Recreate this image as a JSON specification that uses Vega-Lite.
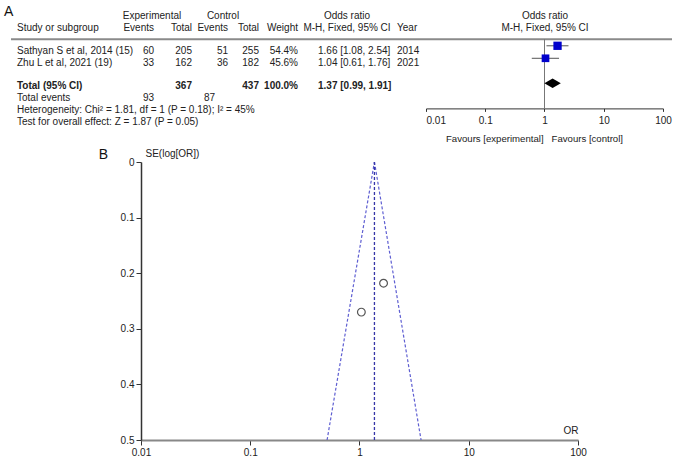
{
  "$schema": "https://vega.github.io/schema/vega-lite/v6.json",
  "padding": {"left": 4, "top": 5, "right": 0, "bottom": 0},
  "background": "white",
  "config": {
    "view": {"stroke": null},
    "font": "Liberation Sans",
    "text": {"fontSize": 10, "color": "#222"},
    "axis": {"grid": false, "labelColor": "#222", "titleColor": "#222", "titleFontWeight": "normal", "labelFontSize": 10, "titleFontSize": 10, "labelFlush": false, "labelOverlap": false}
  },
  "datasets": {
    "table": [
      {"row": "h2", "study": "Study or subgroup", "ee": "Events", "et": "Total", "ce": "Events", "ct": "Total", "w": "Weight", "yr": "Year"},
      {"row": "s1", "study": "Sathyan S et al, 2014 (15)", "ee": "60", "et": "205", "ce": "51", "ct": "255", "w": "54.4%", "or": "1.66 [1.08, 2.54]", "yr": "2014"},
      {"row": "s2", "study": "Zhu L et al, 2021 (19)", "ee": "33", "et": "162", "ce": "36", "ct": "182", "w": "45.6%", "or": "1.04 [0.61, 1.76]", "yr": "2021"},
      {"row": "tot", "study": "Total (95% CI)", "et": "367", "ct": "437", "w": "100.0%", "or": "1.37 [0.99, 1.91]"},
      {"row": "ev", "study": "Total events", "ee": "93", "ce_total": "87"},
      {"row": "het", "study": "Heterogeneity: Chi² = 1.81, df = 1 (P = 0.18); I² = 45%"},
      {"row": "test", "study": "Test for overall effect: Z = 1.87 (P = 0.05)"}
    ],
    "header": [
      {"row": "h1", "group": "exp", "label": "Experimental"},
      {"row": "h1", "group": "ctl", "label": "Control"},
      {"row": "h1", "group": "or", "label": "Odds ratio"},
      {"row": "h2", "group": "or", "label": "M-H, Fixed, 95% CI"},
      {"row": "h1", "group": "plot", "label": "Odds ratio"},
      {"row": "h2", "group": "plot", "label": "M-H, Fixed, 95% CI"}
    ],
    "forest": [
      {"row": "s1", "study": "Sathyan S et al, 2014", "or": 1.66, "lo": 1.08, "hi": 2.54, "weight": 54.4},
      {"row": "s2", "study": "Zhu L et al, 2021", "or": 1.04, "lo": 0.61, "hi": 1.76, "weight": 45.6}
    ],
    "pooled": [
      {"row": "tot", "or": 1.37, "lo": 0.99, "hi": 1.91}
    ],
    "funnel_points": [
      {"study": "Sathyan S et al, 2014", "or": 1.66, "se": 0.218},
      {"study": "Zhu L et al, 2021", "or": 1.04, "se": 0.27}
    ],
    "funnel_lines": [
      {"line": "lower", "or": 1.37, "se": 0},
      {"line": "lower", "or": 0.505, "se": 0.5},
      {"line": "upper", "or": 1.37, "se": 0},
      {"line": "upper", "or": 3.66, "se": 0.5},
      {"line": "center", "or": 1.37, "se": 0},
      {"line": "center", "or": 1.37, "se": 0.5}
    ]
  },
  "spacing": 5,
  "vconcat": [
    {
      "bounds": "flush",
      "spacing": 0,
      "hconcat": [
        {
          "width": 285,
          "height": 117.4,
          "data": {"name": "table"},
          "layer": [
            {
              "data": {"values": [{"panel": "A"}]},
              "mark": {"type": "text", "align": "left", "fontSize": 14, "dy": -3.7, "color": "#111"},
              "encoding": {
                "x": {"datum": 4, "type": "quantitative", "scale": {"domain": [141, 426], "nice": false, "zero": false}, "axis": null},
                "y": {"datum": "h1", "type": "nominal", "scale": {"domain": ["h1", "h2", "line", "s1", "s2", "gap", "tot", "ev", "het", "test"]}, "axis": null},
                "text": {"field": "panel"}
              }
            },
            {
              "data": {"name": "header"},
              "transform": [{"filter": "datum.group === 'exp'"}],
              "mark": {"type": "text", "align": "center"},
              "encoding": {
                "x": {"datum": 152, "type": "quantitative", "scale": {"domain": [141, 426], "nice": false, "zero": false}, "axis": null},
                "y": {"field": "row", "type": "nominal", "scale": {"domain": ["h1", "h2", "line", "s1", "s2", "gap", "tot", "ev", "het", "test"]}, "axis": null},
                "text": {"field": "label"}
              }
            },
            {
              "data": {"name": "header"},
              "transform": [{"filter": "datum.group === 'ctl'"}],
              "mark": {"type": "text", "align": "center"},
              "encoding": {
                "x": {"datum": 223, "type": "quantitative", "scale": {"domain": [141, 426], "nice": false, "zero": false}, "axis": null},
                "y": {"field": "row", "type": "nominal", "scale": {"domain": ["h1", "h2", "line", "s1", "s2", "gap", "tot", "ev", "het", "test"]}, "axis": null},
                "text": {"field": "label"}
              }
            },
            {
              "data": {"name": "header"},
              "transform": [{"filter": "datum.group === 'or'"}],
              "mark": {"type": "text", "align": "center"},
              "encoding": {
                "x": {"datum": 347, "type": "quantitative", "scale": {"domain": [141, 426], "nice": false, "zero": false}, "axis": null},
                "y": {"field": "row", "type": "nominal", "scale": {"domain": ["h1", "h2", "line", "s1", "s2", "gap", "tot", "ev", "het", "test"]}, "axis": null},
                "text": {"field": "label"}
              }
            },
            {
              "data": {"name": "header"},
              "transform": [{"filter": "datum.group === 'plot'"}],
              "mark": {"type": "text", "align": "center"},
              "encoding": {
                "x": {"datum": 545, "type": "quantitative", "scale": {"domain": [141, 426], "nice": false, "zero": false}, "axis": null},
                "y": {"field": "row", "type": "nominal", "scale": {"domain": ["h1", "h2", "line", "s1", "s2", "gap", "tot", "ev", "het", "test"]}, "axis": null},
                "text": {"field": "label"}
              }
            },
            {
              "data": {"values": [{"row": "line"}]},
              "mark": {"type": "rule", "color": "#8a8a8a", "strokeWidth": 2},
              "encoding": {
                "x": {"datum": 11, "type": "quantitative", "scale": {"domain": [141, 426], "nice": false, "zero": false}, "axis": null},
                "x2": {"datum": 672},
                "y": {"field": "row", "type": "nominal", "scale": {"domain": ["h1", "h2", "line", "s1", "s2", "gap", "tot", "ev", "het", "test"]}, "axis": null}
              }
            },
            {
              "transform": [{"filter": "isValid(datum.study)"}],
              "mark": {"type": "text", "align": "left", "fontWeight": {"expr": "datum.row === 'tot' ? 'bold' : 'normal'"}},
              "encoding": {
                "x": {"datum": 17, "type": "quantitative", "scale": {"domain": [141, 426], "nice": false, "zero": false}, "axis": null},
                "y": {"field": "row", "type": "nominal", "scale": {"domain": ["h1", "h2", "line", "s1", "s2", "gap", "tot", "ev", "het", "test"]}, "axis": null},
                "text": {"field": "study"}
              }
            },
            {
              "transform": [{"filter": "isValid(datum.ee)"}],
              "mark": {"type": "text", "align": "right", "fontWeight": {"expr": "datum.row === 'tot' ? 'bold' : 'normal'"}},
              "encoding": {
                "x": {"datum": 154, "type": "quantitative", "scale": {"domain": [141, 426], "nice": false, "zero": false}, "axis": null},
                "y": {"field": "row", "type": "nominal", "scale": {"domain": ["h1", "h2", "line", "s1", "s2", "gap", "tot", "ev", "het", "test"]}, "axis": null},
                "text": {"field": "ee"}
              }
            },
            {
              "transform": [{"filter": "isValid(datum.et)"}],
              "mark": {"type": "text", "align": "right", "fontWeight": {"expr": "datum.row === 'tot' ? 'bold' : 'normal'"}},
              "encoding": {
                "x": {"datum": 192, "type": "quantitative", "scale": {"domain": [141, 426], "nice": false, "zero": false}, "axis": null},
                "y": {"field": "row", "type": "nominal", "scale": {"domain": ["h1", "h2", "line", "s1", "s2", "gap", "tot", "ev", "het", "test"]}, "axis": null},
                "text": {"field": "et"}
              }
            },
            {
              "transform": [{"filter": "isValid(datum.ce)"}],
              "mark": {"type": "text", "align": "right", "fontWeight": {"expr": "datum.row === 'tot' ? 'bold' : 'normal'"}},
              "encoding": {
                "x": {"datum": 228, "type": "quantitative", "scale": {"domain": [141, 426], "nice": false, "zero": false}, "axis": null},
                "y": {"field": "row", "type": "nominal", "scale": {"domain": ["h1", "h2", "line", "s1", "s2", "gap", "tot", "ev", "het", "test"]}, "axis": null},
                "text": {"field": "ce"}
              }
            },
            {
              "transform": [{"filter": "isValid(datum.ce_total)"}],
              "mark": {"type": "text", "align": "right"},
              "encoding": {
                "x": {"datum": 215, "type": "quantitative", "scale": {"domain": [141, 426], "nice": false, "zero": false}, "axis": null},
                "y": {"field": "row", "type": "nominal", "scale": {"domain": ["h1", "h2", "line", "s1", "s2", "gap", "tot", "ev", "het", "test"]}, "axis": null},
                "text": {"field": "ce_total"}
              }
            },
            {
              "transform": [{"filter": "isValid(datum.ct)"}],
              "mark": {"type": "text", "align": "right", "fontWeight": {"expr": "datum.row === 'tot' ? 'bold' : 'normal'"}},
              "encoding": {
                "x": {"datum": 259, "type": "quantitative", "scale": {"domain": [141, 426], "nice": false, "zero": false}, "axis": null},
                "y": {"field": "row", "type": "nominal", "scale": {"domain": ["h1", "h2", "line", "s1", "s2", "gap", "tot", "ev", "het", "test"]}, "axis": null},
                "text": {"field": "ct"}
              }
            },
            {
              "transform": [{"filter": "isValid(datum.w)"}],
              "mark": {"type": "text", "align": "right", "fontWeight": {"expr": "datum.row === 'tot' ? 'bold' : 'normal'"}},
              "encoding": {
                "x": {"datum": 298, "type": "quantitative", "scale": {"domain": [141, 426], "nice": false, "zero": false}, "axis": null},
                "y": {"field": "row", "type": "nominal", "scale": {"domain": ["h1", "h2", "line", "s1", "s2", "gap", "tot", "ev", "het", "test"]}, "axis": null},
                "text": {"field": "w"}
              }
            },
            {
              "transform": [{"filter": "isValid(datum.or)"}],
              "mark": {"type": "text", "align": "left", "fontWeight": {"expr": "datum.row === 'tot' ? 'bold' : 'normal'"}},
              "encoding": {
                "x": {"datum": 318, "type": "quantitative", "scale": {"domain": [141, 426], "nice": false, "zero": false}, "axis": null},
                "y": {"field": "row", "type": "nominal", "scale": {"domain": ["h1", "h2", "line", "s1", "s2", "gap", "tot", "ev", "het", "test"]}, "axis": null},
                "text": {"field": "or"}
              }
            },
            {
              "transform": [{"filter": "isValid(datum.yr)"}],
              "mark": {"type": "text", "align": "left"},
              "encoding": {
                "x": {"datum": 397, "type": "quantitative", "scale": {"domain": [141, 426], "nice": false, "zero": false}, "axis": null},
                "y": {"field": "row", "type": "nominal", "scale": {"domain": ["h1", "h2", "line", "s1", "s2", "gap", "tot", "ev", "het", "test"]}, "axis": null},
                "text": {"field": "yr"}
              }
            }
          ]
        },
        {
          "width": 237,
          "height": 98.4,
          "layer": [
            {
              "data": {"values": [{"or": 1}]},
              "mark": {"type": "rule", "color": "#777", "strokeWidth": 1, "yOffset": -6.7},
              "encoding": {
                "x": {
                  "field": "or", "type": "quantitative",
                  "scale": {"type": "log", "domain": [0.01, 100], "nice": false},
                  "axis": {
                    "values": [0.01, 0.1, 1, 10, 100], "format": "~g",
                    "domainColor": "#333", "tickColor": "#333", "tickSize": 3, "labelPadding": 4,
                    "labelAlign": {"condition": {"test": "datum.value <= 0.011", "value": "left"}, "value": "center"},
                    "title": "Favours [experimental]\u00a0\u00a0\u00a0Favours [control]",
                    "titleX": 108, "titlePadding": 8, "titleFontSize": 9.6
                  }
                },
                "y": {"datum": "s1", "type": "nominal", "scale": {"domain": ["h2", "line", "s1", "s2", "gap", "tot", "ev"], "padding": 0.874, "align": 0.458}, "axis": null},
                "y2": {"value": "height"}
              }
            },
            {
              "data": {"name": "forest"},
              "mark": {"type": "rule", "color": "#555", "strokeWidth": 1},
              "encoding": {
                "x": {"field": "lo", "type": "quantitative", "scale": {"type": "log", "domain": [0.01, 100], "nice": false}},
                "x2": {"field": "hi"},
                "y": {"field": "row", "type": "nominal", "scale": {"domain": ["h2", "line", "s1", "s2", "gap", "tot", "ev"], "padding": 0.874, "align": 0.458}, "axis": null}
              }
            },
            {
              "data": {"name": "forest"},
              "mark": {"type": "point", "shape": "square", "filled": true, "color": "#0000cc", "opacity": 1},
              "encoding": {
                "x": {"field": "or", "type": "quantitative", "scale": {"type": "log", "domain": [0.01, 100], "nice": false}},
                "y": {"field": "row", "type": "nominal", "scale": {"domain": ["h2", "line", "s1", "s2", "gap", "tot", "ev"], "padding": 0.874, "align": 0.458}, "axis": null},
                "size": {"field": "weight", "type": "quantitative", "scale": {"domain": [45.6, 54.4], "range": [59, 69], "zero": false}, "legend": null}
              }
            },
            {
              "data": {"name": "pooled"},
              "mark": {"type": "point", "shape": "M -1 0 L 0 -0.58 L 1 0 L 0 0.58 Z", "filled": true, "color": "#000", "opacity": 1, "size": 270},
              "encoding": {
                "x": {"field": "or", "type": "quantitative", "scale": {"type": "log", "domain": [0.01, 100], "nice": false}},
                "y": {"field": "row", "type": "nominal", "scale": {"domain": ["h2", "line", "s1", "s2", "gap", "tot", "ev"], "padding": 0.874, "align": 0.458}, "axis": null}
              }
            }
          ]
        }
      ]
    },
    {
      "width": 437,
      "height": 278,
      "layer": [
        {
          "data": {"name": "funnel_lines"},
          "transform": [{"filter": "datum.line !== 'center'"}],
          "mark": {"type": "line", "color": "#5f5fd2", "strokeWidth": 1.2, "strokeDash": [3, 2]},
          "encoding": {
            "x": {
              "field": "or", "type": "quantitative",
              "scale": {"type": "log", "domain": [0.01, 100], "nice": false},
              "axis": {
                "values": [0.01, 0.1, 1, 10, 100], "format": "~g",
                "domainColor": "#888", "domainWidth": 2, "tickColor": "#333", "tickSize": 5, "labelPadding": 2,
                "title": "OR", "titleX": 437, "titleY": -7, "titleAlign": "right", "titleBaseline": "alphabetic"
              }
            },
            "y": {
              "field": "se", "type": "quantitative",
              "scale": {"domain": [0, 0.5], "reverse": true, "nice": false, "zero": false},
              "axis": {
                "values": [0, 0.1, 0.2, 0.3, 0.4, 0.5], "format": "~g",
                "domainColor": "#333", "domainWidth": 1.5, "tickColor": "#333", "tickSize": 5, "labelPadding": 2,
                "title": "SE(log[OR])", "titleAngle": 0, "titleX": 4, "titleY": -6, "titleAlign": "left", "titleBaseline": "alphabetic"
              }
            },
            "detail": {"field": "line", "type": "nominal"}
          }
        },
        {
          "data": {"name": "funnel_lines"},
          "transform": [{"filter": "datum.line === 'center'"}],
          "mark": {"type": "line", "color": "#3535a8", "strokeWidth": 1.3, "strokeDash": [3, 2]},
          "encoding": {
            "x": {"field": "or", "type": "quantitative", "scale": {"type": "log", "domain": [0.01, 100], "nice": false}},
            "y": {"field": "se", "type": "quantitative", "scale": {"domain": [0, 0.5], "reverse": true, "nice": false, "zero": false}}
          }
        },
        {
          "data": {"name": "funnel_points"},
          "mark": {"type": "point", "shape": "circle", "filled": false, "color": "#555", "strokeWidth": 1.2, "size": 60, "opacity": 1},
          "encoding": {
            "x": {"field": "or", "type": "quantitative", "scale": {"type": "log", "domain": [0.01, 100], "nice": false}},
            "y": {"field": "se", "type": "quantitative", "scale": {"domain": [0, 0.5], "reverse": true, "nice": false, "zero": false}}
          }
        },
        {
          "data": {"values": [{"panel": "B"}]},
          "mark": {"type": "text", "align": "right", "fontSize": 14, "dx": -33, "dy": -7, "color": "#111"},
          "encoding": {
            "x": {"datum": 0.01, "type": "quantitative", "scale": {"type": "log", "domain": [0.01, 100], "nice": false}},
            "y": {"datum": 0, "type": "quantitative", "scale": {"domain": [0, 0.5], "reverse": true, "nice": false, "zero": false}},
            "text": {"field": "panel"}
          }
        }
      ]
    }
  ]
}
